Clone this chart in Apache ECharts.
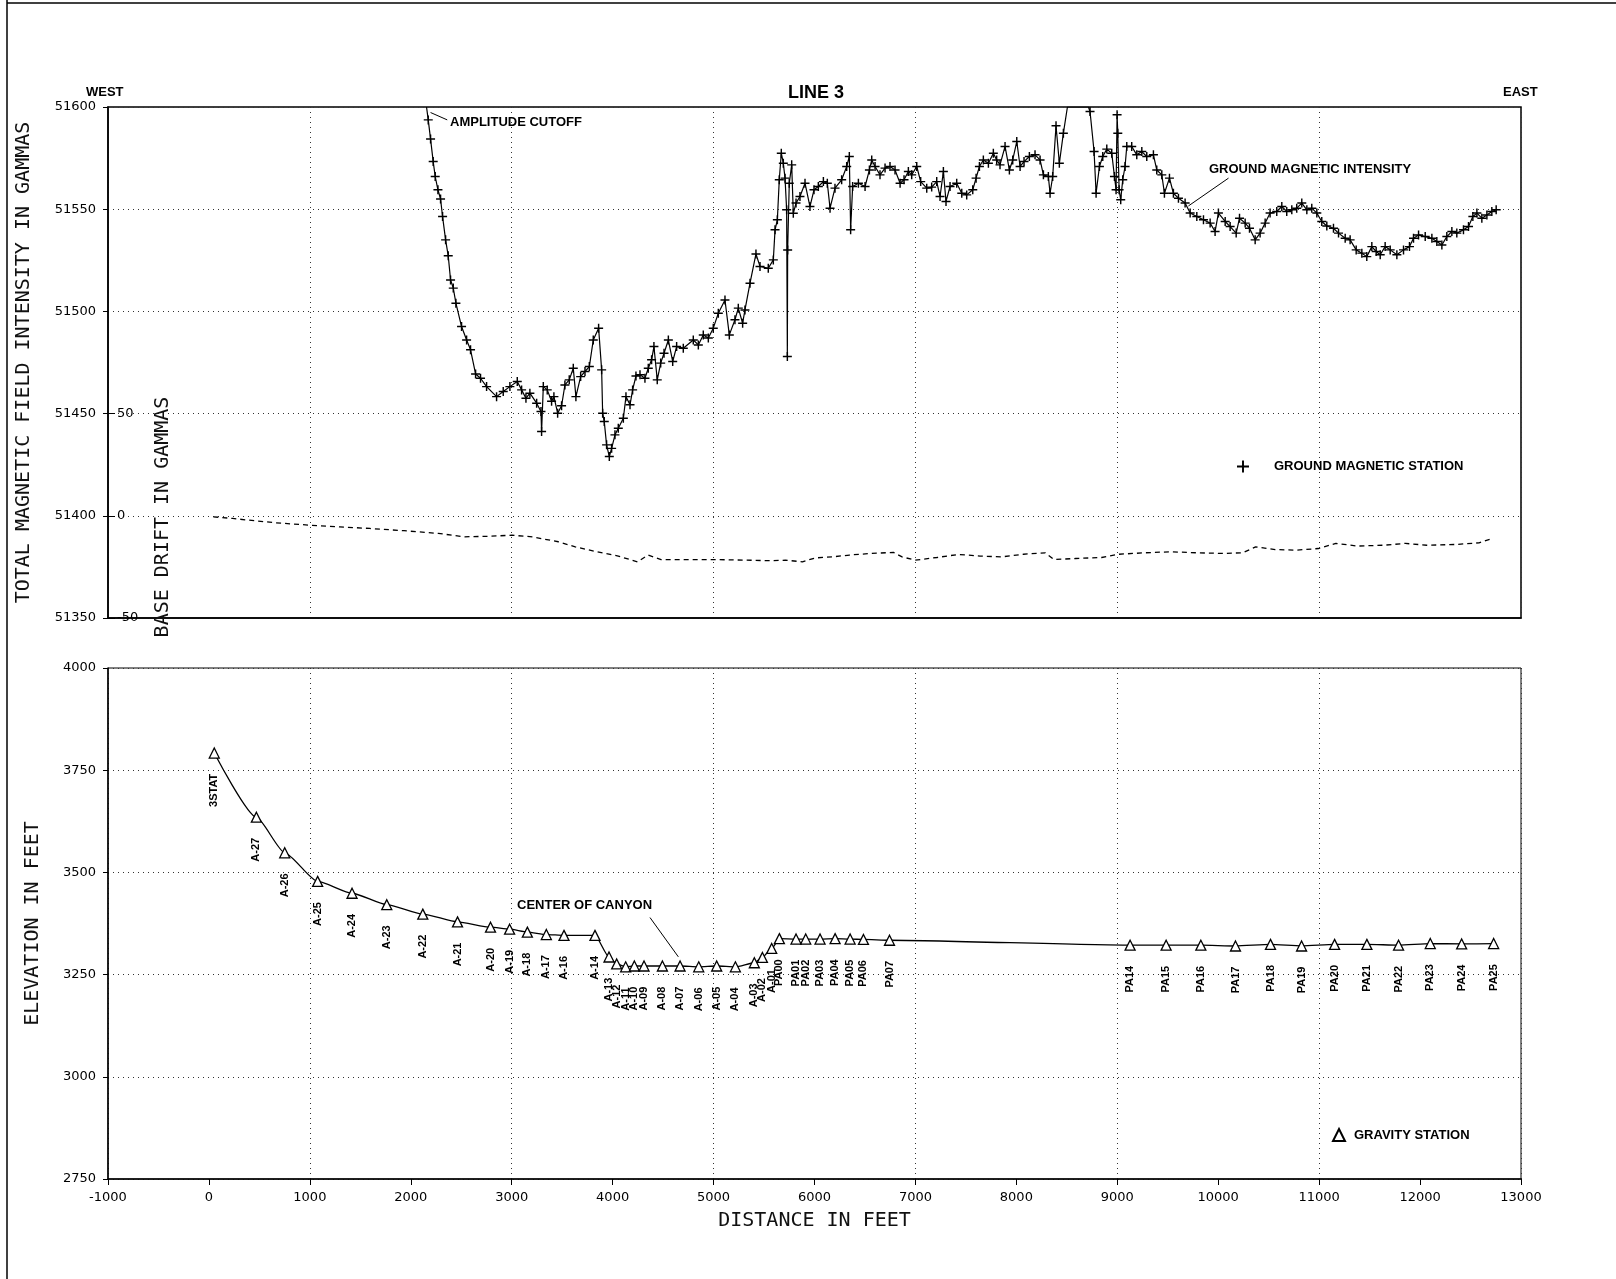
<!DOCTYPE html>
<html>
<head>
<meta charset="utf-8">
<title>LINE 3</title>
<script src="https://cdn.jsdelivr.net/npm/echarts@6/dist/echarts.min.js"></script>
<style>
  html, body { margin: 0; padding: 0; background: #fff; }
  #chart { width: 1616px; height: 1279px; }
</style>
</head>
<body>
<div id="chart"></div>
<script>
// ground magnetic stations: [distance ft, total field gammas]
const magField = [
  [2156, 51600], [2173, 51593.7], [2196, 51584.3], [2222, 51573.3], [2242, 51566], [2269, 51559.5],
  [2295, 51555], [2315, 51546.4], [2345, 51535], [2371, 51527.2], [2394, 51515.4], [2421, 51511.4],
  [2447, 51504], [2503, 51492.6], [2553, 51486], [2592, 51481.2], [2642, 51469.4], [2691, 51467.3],
  [2751, 51463.2], [2850, 51458.3], [2916, 51460.8], [2982, 51463.2], [3055, 51465.7], [3098, 51461.6],
  [3141, 51457.5], [3180, 51460], [3247, 51455.1], [3290, 51451], [3296, 51441.2], [3313, 51463.2],
  [3352, 51461.6], [3395, 51456], [3418, 51458.3], [3455, 51450.2], [3494, 51453.8], [3527, 51464],
  [3570, 51466.5], [3610, 51472.2], [3636, 51458.3], [3683, 51468.1], [3726, 51470.6], [3769, 51473],
  [3808, 51486], [3861, 51491.8], [3891, 51471.4], [3901, 51450.2], [3917, 51446.1], [3940, 51434.7],
  [3967, 51429], [3990, 51433], [4023, 51439.6], [4056, 51442.8], [4106, 51447.7], [4132, 51458.3],
  [4172, 51454.3], [4198, 51461.6], [4231, 51468.4], [4271, 51469], [4320, 51467.3], [4353, 51472.2],
  [4386, 51476.3], [4409, 51482.8], [4442, 51466.5], [4476, 51474.7], [4509, 51479.5], [4552, 51486],
  [4595, 51475.5], [4634, 51482.8], [4700, 51482], [4799, 51486], [4849, 51483.6],
  [4898, 51488.5], [4948, 51487], [4997, 51491.8], [5047, 51499.1], [5113, 51505.6], [5156, 51488.5],
  [5212, 51495.9], [5245, 51501.6], [5288, 51494.2], [5311, 51500.7], [5361, 51513.8], [5420, 51528.1],
  [5460, 51522], [5542, 51521.1], [5592, 51525.2], [5609, 51539.9], [5632, 51544.8], [5651, 51564.4],
  [5671, 51577.4], [5691, 51572.5], [5708, 51565.2], [5724, 51549.7], [5731, 51477.9], [5734, 51530],
  [5750, 51562.7], [5774, 51571.7], [5790, 51548], [5817, 51553], [5856, 51556.2], [5906, 51562.7],
  [5955, 51551.3], [5995, 51559.5], [6038, 51561.1], [6088, 51563.5], [6127, 51562.7], [6154, 51550.5],
  [6203, 51560.3], [6269, 51564.4], [6319, 51570.9], [6345, 51575.8], [6358, 51539.9], [6378, 51561.1],
  [6435, 51562.7], [6501, 51561.1], [6544, 51569.2], [6567, 51574.1], [6600, 51570.9], [6649, 51566.8],
  [6699, 51570.1], [6748, 51570.9], [6798, 51569.2], [6848, 51562.7], [6887, 51564.4], [6930, 51568.4],
  [6963, 51566.8], [7013, 51570.9], [7052, 51563.5], [7112, 51560.3], [7161, 51560.8], [7211, 51563.5],
  [7244, 51556.2], [7277, 51568.4], [7303, 51553.8], [7343, 51561.1], [7409, 51562.7], [7459, 51557.8],
  [7508, 51557], [7568, 51559.5], [7601, 51565.2], [7634, 51570.9],
  [7673, 51574.1], [7723, 51572.5], [7772, 51577.4], [7805, 51574.1], [7838, 51571.7], [7888, 51580.7],
  [7931, 51569.2], [7964, 51574.1], [8004, 51583.1], [8037, 51570.9], [8076, 51573.3], [8129, 51575.8],
  [8185, 51576.6], [8235, 51574.1], [8268, 51566.8], [8317, 51566], [8334, 51557.8], [8360, 51566],
  [8393, 51590.8], [8426, 51572.5], [8466, 51587.2], [8506, 51600], [8714, 51600], [8730, 51597.8],
  [8770, 51578.2], [8790, 51557.8], [8823, 51570.9], [8856, 51575.8], [8896, 51579.4], [8945, 51577.4],
  [8972, 51566], [8988, 51559.5], [8998, 51596.2], [9005, 51587.2], [9018, 51559.5], [9034, 51554.6],
  [9054, 51564.4], [9077, 51570.9], [9094, 51580.7], [9143, 51580.7], [9193, 51576.6], [9243, 51578.2],
  [9292, 51575.8], [9358, 51576.6], [9391, 51569.2], [9441, 51566.8], [9467, 51557.8], [9517, 51565.2],
  [9556, 51557.8], [9606, 51555.4], [9672, 51553], [9722, 51548.1], [9788, 51546.4], [9854, 51544.8],
  [9920, 51543.2], [9969, 51539.1], [10002, 51548.1], [10069, 51544], [10118, 51541.5], [10178, 51538.3],
  [10211, 51545.6], [10267, 51543.2], [10310, 51540.7], [10366, 51535],
  [10415, 51538.3], [10465, 51543.2], [10514, 51548.1], [10580, 51548.9], [10630, 51551.3], [10679, 51548.9],
  [10729, 51549.7], [10778, 51550.5], [10828, 51553], [10878, 51549.7], [10927, 51550.5], [10977, 51548.1],
  [11026, 51544], [11076, 51541.8], [11142, 51540.7], [11192, 51538.3], [11258, 51535.8], [11307, 51535],
  [11367, 51530.1], [11423, 51528.5], [11472, 51526.8], [11522, 51531.7], [11565, 51529.3], [11605, 51527.7],
  [11654, 51531.7], [11704, 51530.1], [11770, 51527.7], [11836, 51530.1], [11895, 51531.7], [11935, 51535.8],
  [11985, 51537.4], [12051, 51536.6], [12117, 51535.8], [12166, 51534.2], [12216, 51532.5], [12265, 51536.6],
  [12315, 51539.1], [12364, 51538.3], [12430, 51539.9], [12480, 51541.5], [12523, 51546.4], [12563, 51548.1],
  [12612, 51545.6], [12662, 51547.2], [12711, 51548.9], [12754, 51549.7]
];

// base drift: [distance ft, drift gammas]
const baseDrift = [
  [44, -0.5], [235, -1.3], [447, -2.4], [660, -3.4], [1000, -4.6], [1296, -5.4], [1594, -6.2],
  [1933, -7.3], [2272, -8.6], [2527, -10.3], [2782, -10], [3002, -9.5], [3206, -10.3], [3461, -12.7],
  [3630, -15.2], [3843, -17.6], [4056, -19.7], [4246, -22.5], [4352, -19.2], [4480, -21.4], [4692, -21.4],
  [5010, -21.4], [5328, -21.7], [5583, -22], [5711, -21.7], [5880, -22.5], [6008, -20.6], [6178, -20.1],
  [6347, -19.2], [6567, -18.4], [6782, -17.9], [6868, -20.1], [6997, -21.7], [7212, -20.4], [7427, -18.9],
  [7641, -19.7], [7856, -20.1], [8071, -18.8], [8286, -18.1], [8372, -21.4], [8587, -20.9], [8845, -20.4],
  [9017, -18.8], [9275, -18.1], [9532, -17.6], [9790, -18.1], [10048, -18.4], [10242, -18.1], [10371, -15.2],
  [10564, -16.5], [10779, -16.8], [10994, -16], [11166, -13.5], [11381, -14.8], [11639, -14.4], [11853, -13.5],
  [12068, -14.4], [12369, -14], [12584, -13.2], [12713, -11.1]
];

// gravity stations
const gravNames = [
  '3STAT', 'A-27', 'A-26', 'A-25', 'A-24', 'A-23', 'A-22', 'A-21', 'A-20', 'A-19', 'A-18', 'A-17',
  'A-16', 'A-14', 'A-13', 'A-12', 'A-11', 'A-10', 'A-09', 'A-08', 'A-07', 'A-06', 'A-05', 'A-04',
  'A-03', 'A-02', 'A-01', 'PA00', 'PA01', 'PA02', 'PA03', 'PA04', 'PA05', 'PA06', 'PA07',
  'PA14', 'PA15', 'PA16', 'PA17', 'PA18', 'PA19', 'PA20', 'PA21', 'PA22', 'PA23', 'PA24', 'PA25'
];
const gravDist = [
  53, 470, 751, 1077, 1418, 1762, 2119, 2463, 2790, 2979, 3155, 3343,
  3518, 3825, 3964, 4040, 4129, 4215, 4311, 4493, 4668, 4853, 5031, 5216,
  5404, 5484, 5576, 5652, 5817, 5913, 6055, 6204, 6353, 6485, 6743,
  9127, 9484, 9828, 10171, 10518, 10826, 11153, 11473, 11787, 12101, 12412, 12729
];
const gravElev = [
  3792, 3635, 3548, 3478, 3449, 3421, 3398, 3379, 3366, 3361, 3354, 3348,
  3346, 3346, 3293, 3276, 3269, 3271, 3271, 3271, 3271, 3269, 3271, 3269,
  3279, 3292, 3314, 3338, 3337, 3337, 3337, 3338, 3337, 3336, 3334,
  3322, 3322, 3322, 3320, 3324, 3320, 3324, 3324, 3322, 3326, 3325, 3326
];

const magTicks = [51350, 51400, 51450, 51500, 51550, 51600];
const driftTicks = [-50, 0, 50];

const plusIcon = 'path://M0,4.2H10V5.8H0Z M4.2,0H5.8V10H4.2Z';
const monoFont = '"DejaVu Sans Mono", monospace';
const tickFont = '"DejaVu Sans", sans-serif';
const boldFont = '"Liberation Sans", Arial, sans-serif';
const narrowFont = '"Liberation Sans Narrow", "Liberation Sans", sans-serif';

const dotted = { show: true, lineStyle: { color: '#333', width: 1, type: [1, 4] } };
const tickLabel = { color: '#000', fontFamily: tickFont, fontSize: 13, formatter: v => String(v) };
const axisLineBlack = { show: true, onZero: false, lineStyle: { color: '#000', width: 1.5 } };

function hiddenGridAxis(gridIndex) {
  return {
    gridIndex, type: 'value', min: -1000, max: 13000, interval: 2000,
    axisLine: { show: false, onZero: false }, axisTick: { show: false }, axisLabel: { show: false },
    splitLine: dotted
  };
}

function leader(a, b) {
  return [{ coord: a }, { coord: b }];
}

const chart = echarts.init(document.getElementById('chart'));
chart.setOption({
  animation: false,
  backgroundColor: '#fff',
  grid: [
    { left: 108, top: 107, width: 1413, height: 511, show: true, borderColor: '#000', borderWidth: 1.5 },
    { left: 108, top: 668, width: 1413, height: 511, show: true, borderColor: '#000', borderWidth: 1 }
  ],
  xAxis: [
    {
      gridIndex: 0, type: 'value', min: -1000, max: 13000, interval: 1000,
      axisLine: axisLineBlack,
      axisTick: { show: false }, axisLabel: { show: false }, splitLine: { show: false }
    },
    hiddenGridAxis(0),
    {
      gridIndex: 1, type: 'value', min: -1000, max: 13000, interval: 1000,
      axisLine: axisLineBlack,
      axisTick: { show: true, length: 6, lineStyle: { color: '#000' } },
      axisLabel: Object.assign({ margin: 12 }, tickLabel),
      splitLine: { show: false },
      name: 'DISTANCE IN FEET', nameLocation: 'middle', nameGap: 32,
      nameTextStyle: { fontFamily: monoFont, fontSize: 20, color: '#111' }
    },
    hiddenGridAxis(1)
  ],
  yAxis: [
    {
      gridIndex: 0, type: 'value', min: 51350, max: 51600, interval: 50,
      axisLine: axisLineBlack,
      axisTick: { show: true, length: 5, customValues: magTicks, lineStyle: { color: '#000' } },
      axisLabel: Object.assign({ margin: 12, customValues: magTicks }, tickLabel),
      splitLine: dotted,
      name: 'TOTAL MAGNETIC FIELD INTENSITY IN GAMMAS', nameLocation: 'middle', nameGap: 74,
      nameTextStyle: { fontFamily: monoFont, fontSize: 20, color: '#111' }
    },
    {
      gridIndex: 0, type: 'value', position: 'left', offset: 0, min: -50, max: 200, interval: 50,
      axisLine: { show: false, onZero: false },
      axisTick: { show: true, inside: true, length: 7, customValues: driftTicks, lineStyle: { color: '#000' } },
      axisLabel: Object.assign({ inside: true, margin: 9, customValues: driftTicks }, tickLabel),
      splitLine: { show: false }
    },
    {
      gridIndex: 1, type: 'value', min: 2750, max: 4000, interval: 250,
      axisLine: axisLineBlack,
      axisTick: { show: true, length: 5, lineStyle: { color: '#000' } },
      axisLabel: Object.assign({ margin: 12 }, tickLabel),
      splitLine: dotted,
      name: 'ELEVATION IN FEET', nameLocation: 'middle', nameGap: 65,
      nameTextStyle: { fontFamily: monoFont, fontSize: 20, color: '#111' }
    }
  ],
  legend: [
    {
      data: [{ name: 'GROUND MAGNETIC STATION', icon: plusIcon }],
      left: 1237, top: 460, padding: 0, itemWidth: 12, itemHeight: 12, selectedMode: false,
      textStyle: { fontFamily: boldFont, fontWeight: 'bold', fontSize: 13, color: '#000', padding: [0, 0, 0, 20] }
    },
    {
      data: [{ name: 'GRAVITY STATION', icon: 'triangle' }],
      left: 1332, top: 1128, padding: 0, itemWidth: 12, itemHeight: 12, selectedMode: false,
      textStyle: { fontFamily: boldFont, fontWeight: 'bold', fontSize: 13, color: '#000', padding: [0, 0, 0, 4] }
    }
  ],
  series: [
    {
      name: 'GROUND MAGNETIC STATION', type: 'line', xAxisIndex: 0, yAxisIndex: 0,
      data: magField.map(p => (p[1] >= 51600 ? { value: p, symbol: 'none' } : p)),
      symbol: plusIcon, symbolSize: 9, showAllSymbol: true,
      itemStyle: { color: '#000' },
      lineStyle: { color: '#000', width: 1.2 },
      markLine: {
        silent: true, symbol: ['none', 'none'], label: { show: false },
        lineStyle: { color: '#000', width: 1, type: 'solid' },
        data: [
          leader([2196, 51597.3], [2361, 51593.7]),
          leader([9705, 51551.6], [10102, 51565.2])
        ]
      }
    },
    {
      name: 'BASE DRIFT', type: 'line', xAxisIndex: 0, yAxisIndex: 1,
      data: baseDrift, symbol: 'none',
      lineStyle: { color: '#000', width: 1.3, type: [5, 4] }
    },
    {
      name: 'GRAVITY STATION', type: 'line', xAxisIndex: 2, yAxisIndex: 2,
      data: gravDist.map((d, i) => [d, gravElev[i]]),
      smooth: 0.2, smoothMonotone: 'x',
      symbol: 'triangle', symbolSize: 10,
      itemStyle: { color: '#fff', borderColor: '#000', borderWidth: 1.3 },
      lineStyle: { color: '#000', width: 1.3 },
      label: {
        show: true, position: 'bottom', distance: 15, rotate: 90,
        align: 'right', verticalAlign: 'middle',
        fontFamily: narrowFont, fontWeight: 'bold', fontSize: 11, color: '#000',
        formatter: p => gravNames[p.dataIndex]
      },
      markLine: {
        silent: true, symbol: ['none', 'none'], label: { show: false },
        lineStyle: { color: '#000', width: 1, type: 'solid' },
        data: [leader([4370, 3389.6], [4651, 3293.4])]
      }
    }
  ],
  graphic: [
    { type: 'line', z: 100, shape: { x1: 7, y1: 0, x2: 7, y2: 1279 }, style: { stroke: '#000', lineWidth: 1.5 } },
    { type: 'line', z: 100, shape: { x1: 7, y1: 3, x2: 1616, y2: 3 }, style: { stroke: '#000', lineWidth: 1.5 } },
    { type: 'text', z: 100, x: 816, y: 93, style: { text: 'LINE 3', font: 'bold 18px ' + boldFont, fill: '#000', align: 'center', verticalAlign: 'middle' } },
    { type: 'text', z: 100, x: 86, y: 92, style: { text: 'WEST', font: 'bold 13px ' + boldFont, fill: '#000', align: 'left', verticalAlign: 'middle' } },
    { type: 'text', z: 100, x: 1503, y: 92, style: { text: 'EAST', font: 'bold 13px ' + boldFont, fill: '#000', align: 'left', verticalAlign: 'middle' } },
    { type: 'text', z: 100, x: 450, y: 122, style: { text: 'AMPLITUDE CUTOFF', font: 'bold 13px ' + boldFont, fill: '#000', align: 'left', verticalAlign: 'middle' } },
    { type: 'text', z: 100, x: 1209, y: 169, style: { text: 'GROUND MAGNETIC INTENSITY', font: 'bold 13px ' + boldFont, fill: '#000', align: 'left', verticalAlign: 'middle' } },
    { type: 'text', z: 100, x: 517, y: 905, style: { text: 'CENTER OF CANYON', font: 'bold 13px ' + boldFont, fill: '#000', align: 'left', verticalAlign: 'middle' } },
    { type: 'text', z: 100, x: 163, y: 517, rotation: Math.PI / 2, style: { text: 'BASE DRIFT IN GAMMAS', font: '20px ' + monoFont, fill: '#111', align: 'center', verticalAlign: 'middle' } }
  ]
});
</script>
</body>
</html>
